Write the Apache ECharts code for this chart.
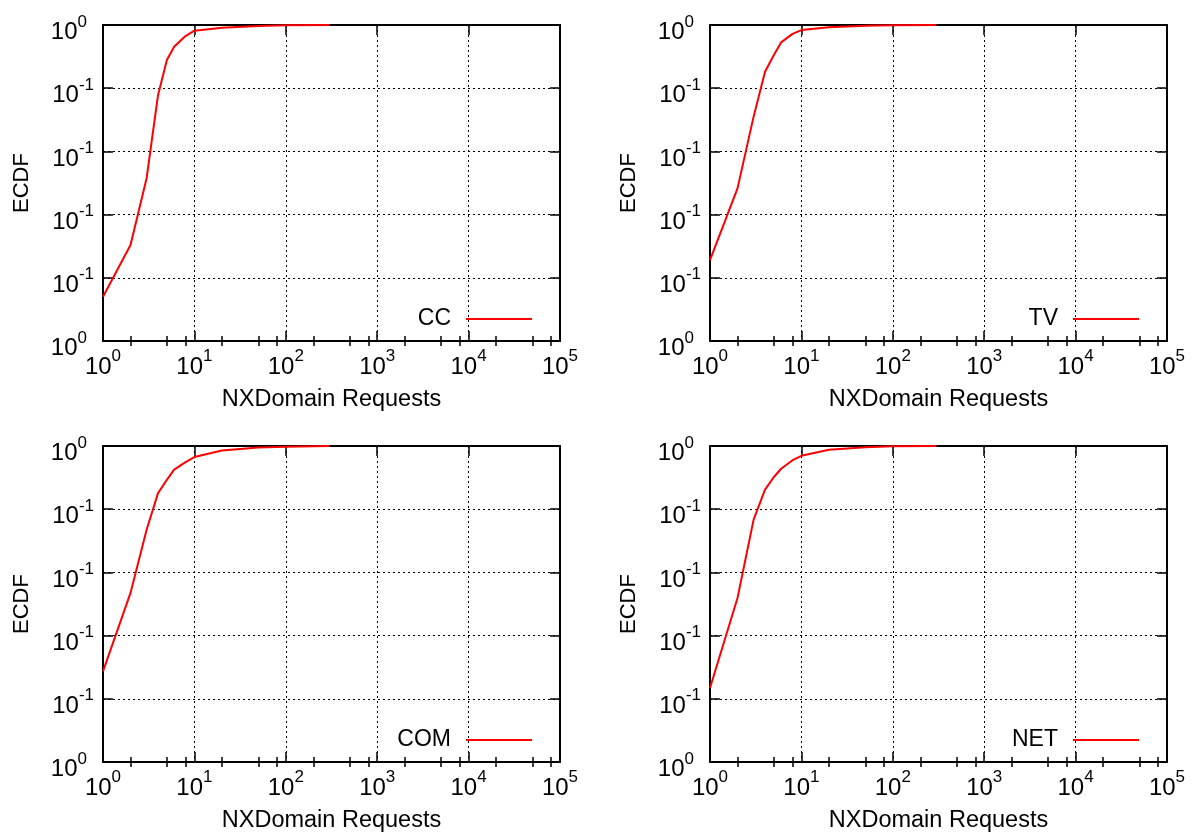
<!DOCTYPE html>
<html><head><meta charset="utf-8">
<script src="https://cdn.jsdelivr.net/npm/echarts@6/dist/echarts.min.js"></script>
<style>html,body{margin:0;padding:0;background:#fff}#c{width:1192px;height:835px}</style>
</head><body><div id="c"></div>
<script>
// ---- data ----
const panelNames = ['CC', 'TV', 'COM', 'NET'];
const ccData  = [[1,0.14],[2,0.304],[3,0.515],[4,0.778],[5,0.889],[6,0.931],[8,0.965],[10,0.982],[20,0.991],[50,0.997],[100,0.999],[300,1.0]];
const tvData  = [[1,0.256],[2,0.483],[3,0.71],[4,0.852],[5,0.905],[6,0.945],[8,0.972],[10,0.984],[20,0.993],[50,0.998],[100,0.999],[300,1.0]];
const comData = [[1,0.287],[2,0.535],[3,0.735],[4,0.851],[5,0.893],[6,0.925],[8,0.949],[10,0.965],[20,0.986],[50,0.995],[100,0.998],[300,1.0]];
const netData = [[1,0.234],[2,0.519],[3,0.767],[4,0.862],[5,0.902],[6,0.928],[8,0.955],[10,0.969],[20,0.988],[50,0.996],[100,0.999],[300,1.0]];
const panelData = [ccData, tvData, comData, netData];
const xTickExponents = ['0','1','2','3','4','5'];
const yTickExponents = ['0','-1','-1','-1','-1','0'];
const xMinorTicks = [2,5,8,20,50,80,200,500,800,2000,5000,8000,20000,50000,80000];
const xAxisName = 'NXDomain Requests';
const yAxisName = 'ECDF';

// ---- layout ----
const FONT = 'Liberation Sans, Arial, Helvetica, sans-serif';
const grids = [
  {left:103, top:25, width:457, height:316},
  {left:710, top:25, width:457, height:316},
  {left:103, top:446, width:457, height:316},
  {left:710, top:446, width:457, height:316}
];
const legendPos = [
  {right:660, top:307},
  {right:53, top:307},
  {right:660, top:728},
  {right:53, top:728}
];

const rich = {
  b: {fontSize:24, fontFamily:FONT, color:'#000', verticalAlign:'bottom', lineHeight:31},
  s: {fontSize:17, fontFamily:FONT, color:'#000', verticalAlign:'top', lineHeight:13},
  sp: {fontSize:17, fontFamily:FONT, color:'#000', verticalAlign:'top', lineHeight:13, padding:[0,7,0,0]}
};
const frameLine = {show:true, onZero:false, lineStyle:{color:'#000', width:2}};
const majorTick = {show:true, inside:true, length:10, lineStyle:{color:'#000', width:1.5}};
const minorTickAsTick = {show:true, inside:true, length:5, customValues:xMinorTicks, lineStyle:{color:'#000', width:1.5}};

const xAxes = [], yAxes = [], series = [], legends = [];
grids.forEach((g, i) => {
  // 4*i: bottom main axis
  xAxes.push({
    type:'log', logBase:10, min:1, max:100000, gridIndex:i, position:'bottom',
    name:xAxisName, nameLocation:'middle', nameGap:48,
    nameTextStyle:{fontSize:23.5, fontFamily:FONT, color:'#000', lineHeight:22},
    axisLine:frameLine,
    axisTick:majorTick,
    axisLabel:{margin:7, formatter:v => '{b|10}{s|' + xTickExponents[Math.round(Math.log10(v))] + '}', rich},
    splitLine:{show:true, lineStyle:{color:'#000', width:1, type:[2,3]}},
    minorTick:{show:false}
  });
  // 4*i+1: top mirror axis
  xAxes.push({
    type:'log', logBase:10, min:1, max:100000, gridIndex:i, position:'top',
    axisLine:frameLine, axisTick:majorTick, axisLabel:{show:false}, splitLine:{show:false}
  });
  // 4*i+2 / 4*i+3: minor ticks bottom and top
  xAxes.push({
    type:'log', logBase:10, min:1, max:100000, gridIndex:i, position:'bottom',
    axisLine:{show:false}, axisTick:minorTickAsTick, axisLabel:{show:false}, splitLine:{show:false}
  });
  xAxes.push({
    type:'log', logBase:10, min:1, max:100000, gridIndex:i, position:'top',
    axisLine:{show:false}, axisTick:minorTickAsTick, axisLabel:{show:false}, splitLine:{show:false}
  });
  yAxes.push({
    type:'value', min:0, max:1, interval:0.2, gridIndex:i, position:'left',
    name:yAxisName, nameLocation:'middle', nameGap:70,
    nameTextStyle:{fontSize:22, fontFamily:FONT, color:'#000', lineHeight:22},
    axisLine:frameLine,
    axisTick:majorTick,
    axisLabel:{margin:9, padding:[8,0,0,0], formatter:v => {
      const e = yTickExponents[Math.round(v/0.2)];
      return '{b|10}{' + (e.length === 1 ? 'sp' : 's') + '|' + e + '}';
    }, rich},
    splitLine:{show:true, lineStyle:{color:'#000', width:1, type:[2,3]}}
  });
  yAxes.push({
    type:'value', min:0, max:1, interval:0.2, gridIndex:i, position:'right',
    axisLine:frameLine, axisTick:majorTick, axisLabel:{show:false}, splitLine:{show:false}
  });
  series.push({
    type:'line', name:panelNames[i], xAxisIndex:4*i, yAxisIndex:2*i,
    data:panelData[i], showSymbol:false, symbol:'none', smooth:false,
    lineStyle:{color:'#ff0000', width:2}, itemStyle:{color:'#ff0000'}, z:3
  });
  legends.push(Object.assign({
    data:[panelNames[i]], orient:'horizontal', align:'right',
    icon:'rect', itemWidth:66, itemHeight:2, padding:0,
    textStyle:{fontSize:23, fontFamily:FONT, color:'#000', padding:[0,10,0,0], lineHeight:24}
  }, legendPos[i]));
});

const chart = echarts.init(document.getElementById('c'), null, {renderer:'canvas'});
chart.setOption({
  animation:false,
  backgroundColor:'#fff',
  grid:grids,
  xAxis:xAxes,
  yAxis:yAxes,
  legend:legends,
  series:series
});
</script></body></html>
